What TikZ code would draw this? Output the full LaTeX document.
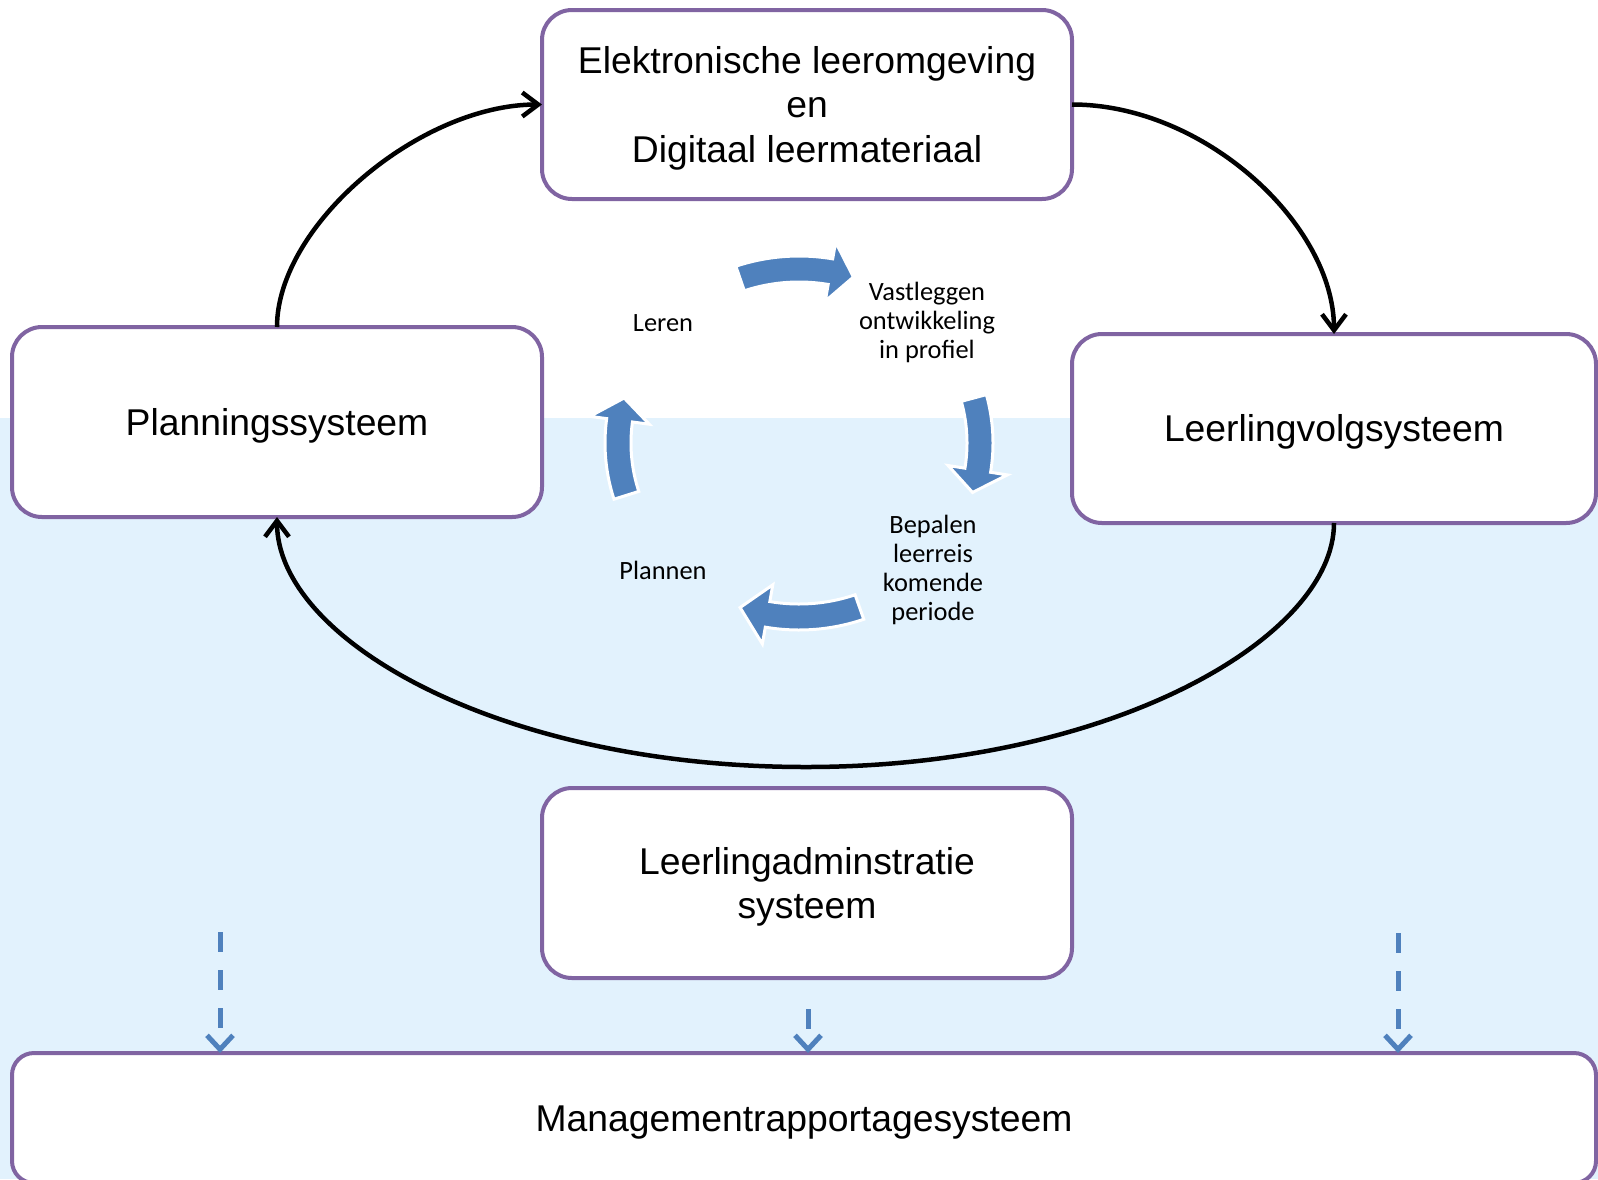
\documentclass[tikz,border=0pt]{standalone}
\usepackage{fontspec}
\setmainfont{Liberation Sans}
\newfontfamily\calfont{Carlito}
\usetikzlibrary{arrows.meta}
\definecolor{boxpurple}{RGB}{128,100,162}
\definecolor{cycblue}{RGB}{79,129,189}
\definecolor{bgblue}{RGB}{226,242,253}
\newcommand{\boxtext}[1]{\raisebox{-4.5pt}[\height][\depth]{\begin{tabular}{@{}c@{}}#1\end{tabular}}}
\newcommand{\cycarrow}[3]{%
  \filldraw[cyc] plot[domain=#1:#2, samples=25] ({799+194*cos(\x)}, {443+187*sin(\x)})
    -- ({799+211*cos(#2)}, {443+204*sin(#2)})
    -- ({799+181*cos(#3)}, {443+174*sin(#3)})
    -- ({799+151*cos(#2)}, {443+144*sin(#2)})
    -- plot[domain=#2:#1, samples=25] ({799+168*cos(\x)}, {443+161*sin(\x)})
    -- cycle;}
\begin{document}
\begin{tikzpicture}[x=1pt,y=-1pt,
  sysbox/.style={draw=boxpurple, line width=4pt, fill=white, rounded corners=30pt,
    inner sep=0pt, outer sep=0pt, font=\fontsize{37.3}{44.3}\selectfont},
  cyclabel/.style={align=center, inner sep=0pt, font=\calfont\fontsize{26.4}{29}\selectfont},
  loopline/.style={line width=4.5pt, -{Straight Barb[length=16pt,width=24pt]}},
  feed/.style={draw=cycblue, line width=5pt, dash pattern=on 20pt off 18pt,
    -{Straight Barb[length=14pt,width=26pt]}},
  cyc/.style={fill=cycblue, draw=white, line width=3pt, line join=miter}]
\useasboundingbox (0,0) rectangle (1598,1179);
\fill[white] (0,0) rectangle (1598,1179);
\fill[bgblue] (0,418) rectangle (1598,1179);

% boxes
\node[sysbox, minimum width=530pt, minimum height=189pt] (elo) at (807,104.5)
  {\boxtext{Elektronische leeromgeving\\en\\Digitaal leermateriaal}};
\node[sysbox, minimum width=530pt, minimum height=190pt] (plan) at (277,422) {\boxtext{Planningssysteem}};
\node[sysbox, minimum width=524pt, minimum height=189pt] (lvs) at (1334,428.5) {\boxtext{Leerlingvolgsysteem}};
\node[sysbox, minimum width=530pt, minimum height=190pt] (adm) at (807,883)
  {\boxtext{Leerlingadminstratie\\systeem}};
\node[sysbox, minimum width=1584pt, minimum height=130pt, rounded corners=22pt] (mgmt) at (804,1118)
  {\boxtext{Managementrapportagesysteem}};

% loop connectors
\draw[loopline] (plan.north) .. controls +(0,-102) and +(-122,0) .. (elo.west);
\draw[loopline] (elo.east) .. controls +(133,0) and +(0,-109) .. (lvs.north);
\coordinate (loopbot) at (806,767);
\draw[loopline] (lvs.south) .. controls +(0,115) and +(304,0) .. (loopbot)
  .. controls +(-306,0) and +(0,123) .. (plan.south);

% cycle arrows
\cycarrow{-109}{-80}{-72.5}
\cycarrow{-15}{9}{16.5}
\cycarrow{70.5}{100}{109}
\cycarrow{162.5}{187.5}{195}

% cycle labels
\node[cyclabel] (leren) at (663,323) {Leren};
\node[cyclabel] (vast) at (927,322) {Vastleggen\\ontwikkeling\\in profiel};
\node[cyclabel] (bepalen) at (933,570) {Bepalen\\leerreis\\komende\\periode};
\node[cyclabel] (plannen) at (663,570) {Plannen};

% dashed feeds
\coordinate (f1) at (220,932);
\coordinate (f2) at (808,1009);
\coordinate (f3) at (1398,933);
\draw[feed] (f1) -- (f1 |- mgmt.north);
\draw[feed] (f2) -- (f2 |- mgmt.north);
\draw[feed] (f3) -- (f3 |- mgmt.north);
\end{tikzpicture}
\end{document}
